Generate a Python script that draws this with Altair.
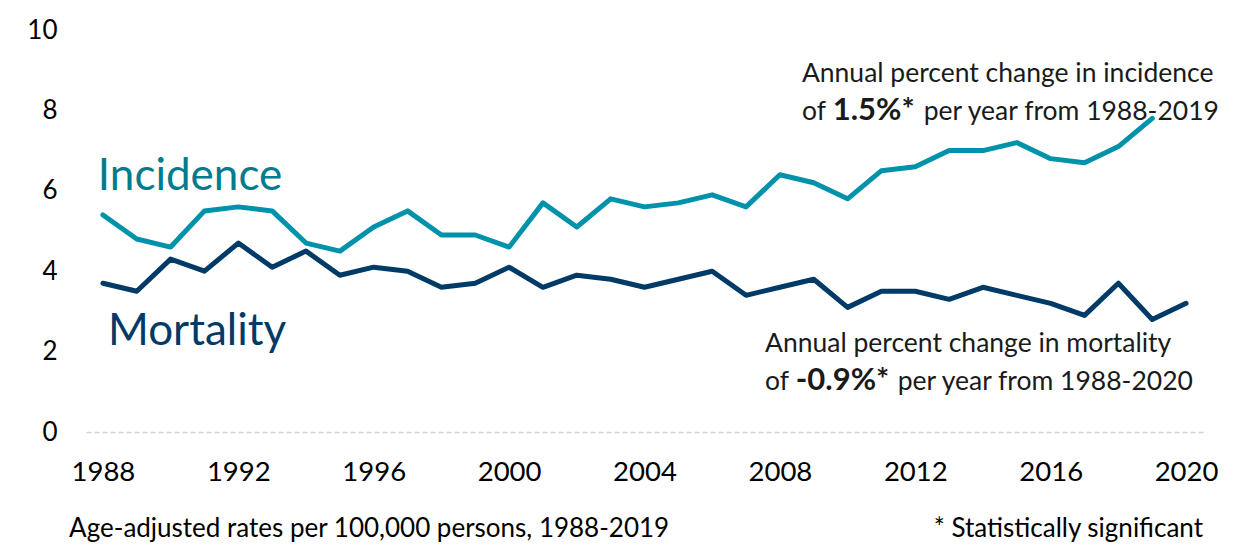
import altair as alt
import pandas as pd

years = list(range(1988, 2021))
incidence = [5.4, 4.8, 4.6, 5.5, 5.6, 5.5, 4.7, 4.5, 5.1, 5.5, 4.9, 4.9, 4.6, 5.7, 5.1, 5.8,
             5.6, 5.7, 5.9, 5.6, 6.4, 6.2, 5.8, 6.5, 6.6, 7.0, 7.0, 7.2, 6.8, 6.7, 7.1, 7.8]
mortality = [3.7, 3.5, 4.3, 4.0, 4.7, 4.1, 4.5, 3.9, 4.1, 4.0, 3.6, 3.7, 4.1, 3.6, 3.9, 3.8,
             3.6, 3.8, 4.0, 3.4, 3.6, 3.8, 3.1, 3.5, 3.5, 3.3, 3.6, 3.4, 3.2, 2.9, 3.7, 2.8, 3.2]
x_ticks = [1988, 1992, 1996, 2000, 2004, 2008, 2012, 2016, 2020]
y_ticks = [0, 2, 4, 6, 8, 10]

series_names = ["Incidence", "Mortality"]
line_colors = ["#0092AA", "#003A66"]
label_colors = ["#007C8E", "#003A66"]

rows = [{"year": y, "rate": v, "series": "Incidence"} for y, v in zip(years, incidence)]
rows += [{"year": y, "rate": v, "series": "Mortality"} for y, v in zip(years, mortality)]
df = pd.DataFrame(rows)

FONT = "Lato"

xscale = alt.Scale(domain=[1987.5, 2020.5], nice=False, zero=False)
yscale = alt.Scale(domain=[0, 10], nice=False)

lines = alt.Chart(df).mark_line(strokeWidth=5, strokeJoin="round", strokeCap="round").encode(
    x=alt.X("year:Q", scale=xscale,
            axis=alt.Axis(values=x_ticks, format="d", title=None, grid=False, ticks=False,
                          domain=True, domainColor="#d4d4d4", domainDash=[5, 3], domainWidth=1.5,
                          labelFont=FONT, labelFontSize=27.5, labelColor="#000000", labelPadding=26)),
    y=alt.Y("rate:Q", scale=yscale,
            axis=alt.Axis(values=y_ticks, title=None, grid=False, ticks=False, domain=False,
                          labelFont=FONT, labelFontSize=26, labelColor="#000000", labelPadding=29)),
    color=alt.Color("series:N", scale=alt.Scale(domain=series_names, range=line_colors), legend=None),
)

# Series labels
lab_df = pd.DataFrame({
    "x": [1987.85, 1988.15],
    "y": [6.02, 2.16],
    "t": series_names,
})
series_labels = alt.Chart(lab_df).mark_text(font=FONT, fontSize=44, align="left", baseline="alphabetic").encode(
    x=alt.X("x:Q", scale=xscale), y=alt.Y("y:Q", scale=yscale), text="t:N",
    color=alt.Color("t:N", scale=alt.Scale(domain=series_names, range=label_colors), legend=None),
)

# Annotations (regular)
ann_reg = pd.DataFrame({
    "x": [2008.65, 2008.65, 2012.25, 2007.56, 2007.56, 2011.48],
    "y": [8.71, 7.76, 7.76, 1.99, 1.045, 1.045],
    "t": ["Annual percent change in incidence", "of", "per year from 1988-2019",
          "Annual percent change in mortality", "of", "per year from 1988-2020"],
})
ann_bold = pd.DataFrame({
    "x": [2009.56, 2008.47],
    "y": [7.76, 1.045],
    "t": ["1.5%*", "-0.9%*"],
})
ann1 = alt.Chart(ann_reg).mark_text(font=FONT, fontSize=26.5, align="left", baseline="alphabetic",
                                    color="#1a1a1a").encode(
    x=alt.X("x:Q", scale=xscale), y=alt.Y("y:Q", scale=yscale), text="t:N")
ann2 = alt.Chart(ann_bold).mark_text(font=FONT, fontSize=31, fontWeight="bold", align="left",
                                     baseline="alphabetic", color="#1a1a1a").encode(
    x=alt.X("x:Q", scale=xscale), y=alt.Y("y:Q", scale=yscale), text="t:N")

# Footer notes
foot_df = pd.DataFrame({
    "x": [1987.0, 2020.5],
    "y": [-2.61, -2.61],
    "t": ["Age-adjusted rates per 100,000 persons, 1988-2019", "* Statistically significant"],
})
foot_l = alt.Chart(foot_df.iloc[[0]]).mark_text(font=FONT, fontSize=26, align="left", baseline="alphabetic",
                                                color="#000000").encode(
    x=alt.X("x:Q", scale=xscale), y=alt.Y("y:Q", scale=yscale), text="t:N")
foot_r = alt.Chart(foot_df.iloc[[1]]).mark_text(font=FONT, fontSize=26, align="right", baseline="alphabetic",
                                                color="#000000").encode(
    x=alt.X("x:Q", scale=xscale), y=alt.Y("y:Q", scale=yscale), text="t:N")

chart = alt.layer(lines, series_labels, ann1, ann2, foot_l, foot_r).resolve_scale(color="independent").properties(
    width=1117, height=402,
    autosize=alt.AutoSizeParams(type="none"),
    padding={"left": 78, "top": 22, "right": 40, "bottom": 110},
).configure(background="white").configure_view(strokeWidth=0, stroke=None)

chart.save("out.html", embed_options={"renderer": "svg", "actions": False})
